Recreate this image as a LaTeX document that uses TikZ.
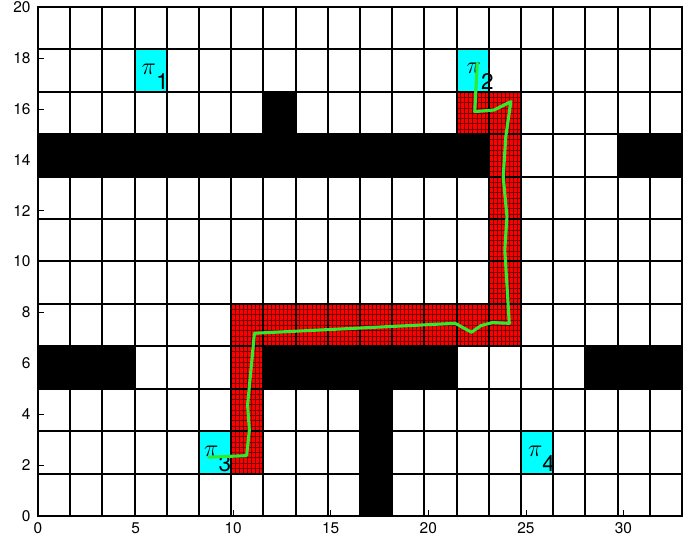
\documentclass[tikz,border=0pt]{standalone}
\usepackage{fontspec}
\setmainfont{TeX Gyre Heros}
\usepackage{tikz}
\usetikzlibrary{intersections, calc, arrows.meta}
\usetikzlibrary{positioning}

\definecolor{goalcyan}{RGB}{0,255,255}
\definecolor{pathgreen}{RGB}{45,235,45}

\newcommand{\cellw}{1.65}
\newcommand{\cellh}{1.6666667}
\newcommand{\goalpi}[1]{{\fontsize{16}{16}\selectfont$\pi$}\raisebox{-1.3ex}{#1}}

\tikzset{
  gridline/.style={line width=1.4pt},
  wall/.style={fill=black},
  goal/.style={fill=goalcyan},
  visited/.style={fill=red},
  mesh/.style={draw=red!45!black, line width=0.25pt},
  route/.style={draw=pathgreen, line width=2.2pt, line join=round, line cap=round},
  ticklab/.style={font=\fontsize{11}{13}\selectfont, inner sep=1pt},
  goallab/.style={font=\fontsize{16}{18}\selectfont, inner sep=0pt, anchor=base west}
}

\begin{document}
\begin{tikzpicture}[x=0.4879cm, y=0.63625cm]
    \useasboundingbox (-1.947,-0.904) rectangle (33.769,20.275);
    % goal cells
    \fill[goal] (3*\cellw,10*\cellh) rectangle ++(\cellw,\cellh);
    \fill[goal] (13*\cellw,10*\cellh) rectangle ++(\cellw,\cellh);
    \fill[goal] (5*\cellw,1*\cellh) rectangle ++(\cellw,\cellh);
    \fill[goal] (15*\cellw,1*\cellh) rectangle ++(\cellw,\cellh);
    % searched cells (refined mesh)
    \foreach \ia/\ja/\ib/\jb in {6/1/7/4, 6/4/15/5, 14/5/15/9, 13/9/15/10}{
        \fill[visited] (\ia*\cellw,\ja*\cellh) rectangle (\ib*\cellw,\jb*\cellh);
        \draw[mesh, step={(\cellw/8,\cellh/8)}] (\ia*\cellw,\ja*\cellh) grid (\ib*\cellw,\jb*\cellh);
    }
    % grid
    \draw[gridline] (0,0) grid[xstep=\cellw, ystep=\cellh] (33.01,20.01);
    \draw[gridline] (0,0) rectangle (33,20);
    % obstacles
    \fill[wall] (0,8*\cellh) rectangle (14*\cellw,9*\cellh);
    \fill[wall] (18*\cellw,8*\cellh) rectangle (20*\cellw,9*\cellh);
    \fill[wall] (7*\cellw,9*\cellh) rectangle (8*\cellw,10*\cellh);
    \fill[wall] (0,3*\cellh) rectangle (3*\cellw,4*\cellh);
    \fill[wall] (7*\cellw,3*\cellh) rectangle (13*\cellw,4*\cellh);
    \fill[wall] (17*\cellw,3*\cellh) rectangle (20*\cellw,4*\cellh);
    \fill[wall] (10*\cellw,0) rectangle (11*\cellw,3*\cellh);
    % ticks and labels
    \foreach \v in {0,5,...,30}{
        \draw[line width=0.4pt] (\v,0) -- (\v,0.24);
        \node[ticklab, anchor=north] (xt\v) at (\v,-0.2) {\v};
    }
    \foreach \v in {0,2,...,20}{
        \draw[line width=0.4pt] (0,\v) -- (0.3,\v);
        \node[ticklab, anchor=east] (yt\v) at (-0.3,\v) {\v};
    }
    % goal labels
    \node[goallab] (pi1) at (5.3,17.35) {\goalpi{1}};
    \node[goallab] (pi2) at (21.95,17.37) {\goalpi{2}};
    \node[goallab] (pi3) at (8.5,2.35) {\goalpi{3}};
    \node[goallab] (pi4) at (25.1,2.35) {\goalpi{4}};
    % planned path
    \draw[route] (8.75,2.31) -- (10.69,2.37) -- (10.83,3.38) -- (10.74,4.36)
        -- (11.09,7.18) -- (21.38,7.57) -- (22.21,7.22) -- (22.7,7.48)
        -- (23.28,7.60) -- (24.15,7.57) -- (23.92,10.45) -- (24.03,11.76)
        -- (23.84,13.33) -- (23.97,14.90) -- (24.23,16.28) -- (23.37,15.95)
        -- (22.38,15.89) -- (22.51,17.79);
\end{tikzpicture}
\end{document}
